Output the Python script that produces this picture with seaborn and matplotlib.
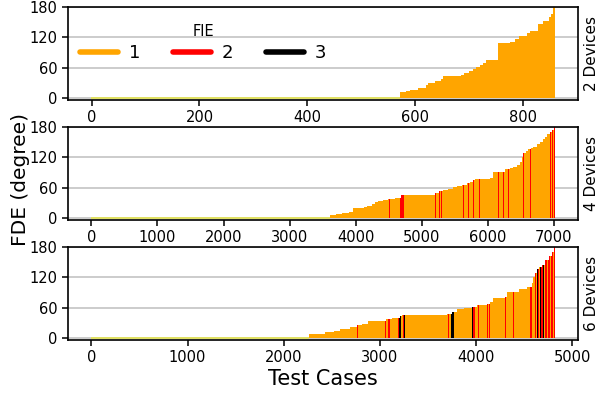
import numpy as np
import pandas as pd
import matplotlib
matplotlib.use("Agg")
import matplotlib.pyplot as plt
from matplotlib.lines import Line2D
import seaborn as sns

# sorted FDE per test case, stored as step runs: run start index -> FDE value
dev2_n = 860
dev2_fde_start = [0, 573, 583, 591, 606, 620, 625, 637, 649, 652, 686, 692, 700, 708, 714,
                  720, 726, 731, 754, 776, 785, 794, 807, 813, 828, 837, 848, 853, 856]
dev2_fde = [0, 12, 15, 17, 20, 25, 30, 33, 38, 44, 46, 50, 54, 58, 61,
            65, 70, 76, 108, 111, 116, 123, 128, 133, 147, 153, 161, 167, 180]
dev2_fie_start = [0, 573]
dev2_fie = [0, 1]

dev4_n = 7020
dev4_fde_start = [0, 3616, 3700, 3792, 3893, 3968, 4069, 4120, 4170, 4246, 4300, 4346, 4420,
                  4498, 4599, 4684, 5203, 5260, 5329, 5400, 5480, 5540, 5606, 5680, 5732,
                  5770, 5808, 6035, 6085, 6262, 6330, 6388, 6440, 6489, 6515, 6539, 6580,
                  6615, 6650, 6690, 6740, 6791, 6830, 6866, 6900, 6942, 6975, 7002]
dev4_fde = [0, 7, 8, 10, 13, 19, 20, 22, 24, 28, 31, 34, 35,
            37, 40, 46, 50, 53, 56, 58, 61, 63, 65, 69, 72,
            75, 77, 80, 91, 97, 99, 101, 105, 111, 120, 128, 132,
            136, 138, 141, 146, 151, 156, 161, 166, 171, 175, 180]
dev4_fie_start = [0, 3616, 4066, 4074, 4157, 4163, 4227, 4233, 4368, 4376, 4510, 4516, 4560,
                  4566, 4674, 4736, 5203, 5210, 5269, 5277, 5300, 5315, 5378, 5384, 5503,
                  5509, 5630, 5637, 5705, 5711, 5780, 5787, 5872, 5878, 5922, 5928, 6033,
                  6040, 6160, 6166, 6234, 6242, 6310, 6316, 6436, 6443, 6500, 6505, 6540,
                  6545, 6580, 6585, 6610, 6615, 6640, 6660, 6700, 6706, 6730, 6735, 6755,
                  6761, 6790, 6795, 6820, 6826, 6850, 6856, 6880, 6887, 6915, 6920, 6945,
                  6951, 6975, 6982, 7005, 7012]
dev4_fie = [0, 1, 2, 1, 2, 1, 2, 1, 2, 1, 2, 1, 2,
            1, 2, 1, 2, 1, 2, 1, 2, 1, 2, 1, 2,
            1, 2, 1, 2, 1, 2, 1, 2, 1, 2, 1, 2,
            1, 2, 1, 2, 1, 2, 1, 2, 1, 2, 1, 2,
            1, 2, 1, 2, 1, 2, 1, 2, 1, 2, 1, 2,
            1, 2, 1, 2, 1, 2, 1, 2, 1, 2, 1, 2,
            1, 2, 1, 2, 1]

dev6_n = 4824
dev6_fde_start = [0, 2260, 2433, 2520, 2589, 2693, 2762, 2814, 2883, 3067, 3126, 3213, 3230,
                  3698, 3750, 3802, 3880, 3957, 4010, 4113, 4148, 4176, 4304, 4321, 4450,
                  4529, 4581, 4598, 4615, 4633, 4660, 4685, 4720, 4765, 4789, 4813]
dev6_fde = [0, 8, 12, 15, 19, 22, 26, 28, 34, 37, 40, 44, 46,
            48, 52, 57, 59, 61, 65, 67, 72, 79, 82, 91, 97,
            102, 109, 121, 128, 136, 140, 145, 155, 163, 171, 180]
dev6_fie_start = [0, 2260, 2698, 2706, 2767, 2774, 2812, 2818, 2926, 2934, 3055, 3062, 3090,
                  3108, 3192, 3200, 3205, 3220, 3240, 3248, 3264, 3712, 3720, 3738, 3768,
                  3800, 3808, 3955, 3975, 3992, 4025, 4032, 4059, 4066, 4118, 4124, 4139,
                  4146, 4163, 4172, 4267, 4274, 4302, 4310, 4388, 4396, 4423, 4430, 4475,
                  4483, 4527, 4535, 4562, 4565, 4580, 4600, 4608, 4617, 4620, 4630, 4640,
                  4642, 4655, 4662, 4672, 4674, 4685, 4692, 4702, 4704, 4712, 4720, 4732,
                  4734, 4745, 4752, 4760, 4762, 4772, 4780, 4790, 4792, 4802, 4808, 4815,
                  4817]
dev6_fie = [0, 1, 2, 1, 2, 1, 2, 1, 2, 1, 2, 1, 2,
            1, 2, 1, 3, 1, 2, 3, 1, 2, 1, 3, 1,
            2, 1, 3, 2, 1, 2, 1, 2, 1, 2, 1, 2,
            1, 2, 1, 2, 1, 2, 1, 2, 1, 2, 1, 2,
            1, 2, 1, 3, 2, 1, 2, 1, 3, 2, 1, 3,
            2, 1, 2, 3, 2, 1, 2, 3, 2, 1, 2, 3,
            2, 1, 2, 3, 2, 1, 2, 3, 2, 1, 2, 3,
            2]

panel_labels = ["2 Devices", "4 Devices", "6 Devices"]
palette = {0: "#e4e45a", 1: "#ffa500", 2: "#ff0000", 3: "#000000"}


def expand(n, starts, values):
    idx = np.searchsorted(starts, np.arange(n), side="right") - 1
    return np.asarray(values)[idx]


def make_df(n, fde_start, fde, fie_start, fie):
    return pd.DataFrame({
        "case": np.arange(n),
        "fde": expand(n, fde_start, fde),
        "fie": expand(n, fie_start, fie),
    })


panels = [
    make_df(dev2_n, dev2_fde_start, dev2_fde, dev2_fie_start, dev2_fie),
    make_df(dev4_n, dev4_fde_start, dev4_fde, dev4_fie_start, dev4_fie),
    make_df(dev6_n, dev6_fde_start, dev6_fde, dev6_fie_start, dev6_fie),
]

sns.set_style("ticks")
plt.rcParams["font.family"] = ["DejaVu Sans"]
plt.rcParams["text.color"] = "black"
plt.rcParams["axes.labelcolor"] = "black"

fig, axes = plt.subplots(3, 1, figsize=(5.98, 3.94), dpi=100)
fig.subplots_adjust(left=0.114, right=0.967, top=0.982, bottom=0.138, hspace=0.297)

for ax, df, label in zip(axes, panels, panel_labels):
    sns.barplot(data=df, x="case", y="fde", hue="fie", palette=palette, native_scale=True,
                dodge=False, width=1, errorbar=None, legend=False, linewidth=0,
                saturation=1, ax=ax)
    for p in ax.patches:
        if p.get_height() == 0:
            p.set_edgecolor(p.get_facecolor())
            p.set_linewidth(1.3)
    ax.set_ylim(-3, 180)
    ax.set_yticks([0, 60, 120, 180])
    ax.set_axisbelow(True)
    ax.yaxis.grid(True, color="#c4c4c4", linewidth=1.2)
    ax.xaxis.grid(False)
    ax.set_xlabel("")
    ax.set_ylabel("")
    ax.tick_params(labelsize=10.5, length=4, width=1.1, colors="black")
    for s in ax.spines.values():
        s.set_visible(True)
        s.set_color("black")
        s.set_linewidth(1.2)
    ax.text(1.012, 0.5, label, transform=ax.transAxes, rotation=90,
            ha="left", va="center", fontsize=11)

handles = [Line2D([0], [0], color=palette[k], lw=4) for k in (1, 2, 3)]
axes[0].legend(handles, ["1", "2", "3"], title="FIE", ncol=3, frameon=False,
               loc="upper left", bbox_to_anchor=(0.01, 0.9), borderaxespad=0,
               fontsize=13, title_fontsize=10.5, handlelength=2.1,
               handletextpad=0.6, columnspacing=1.8, labelspacing=0.3)

fig.text(0.035, 0.545, "FDE (degree)", rotation=90, ha="center", va="center", fontsize=14.5)
fig.text(0.54, 0.038, "Test Cases", ha="center", va="center", fontsize=15)

fig.savefig("out.png", dpi=100)
